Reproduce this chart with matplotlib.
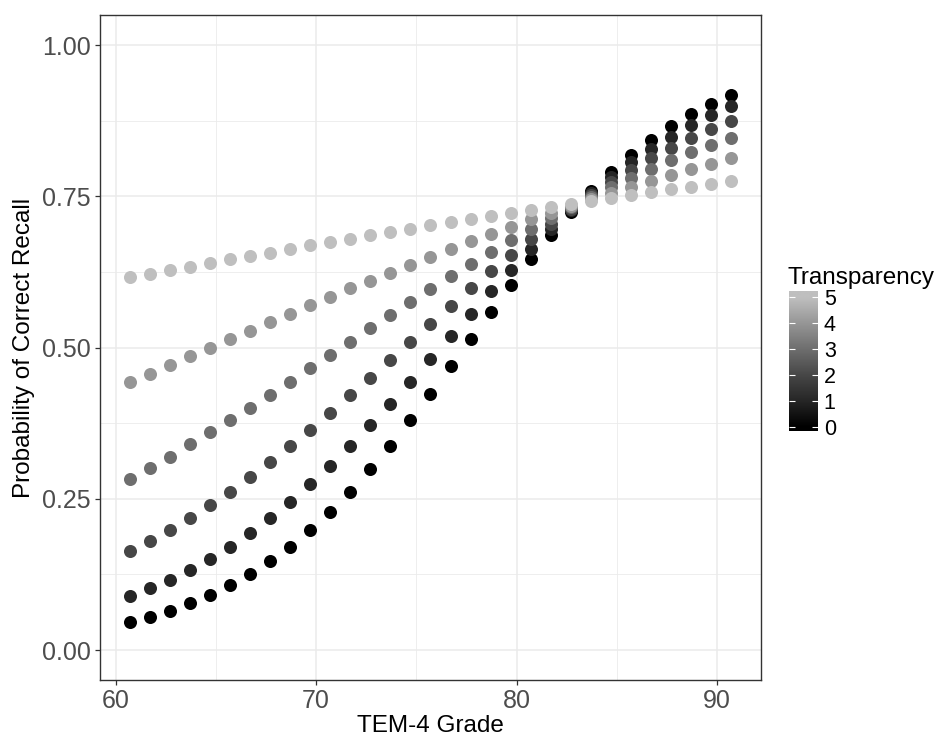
import numpy as np
import matplotlib
matplotlib.use("Agg")
import matplotlib.pyplot as plt
from matplotlib.colors import LinearSegmentedColormap, Normalize

plt.rcParams['font.family'] = ['Liberation Sans', 'DejaVu Sans']

# TEM-4 grade (x) shared by all series
grade = [60.7, 61.7, 62.7, 63.7, 64.7, 65.7, 66.7, 67.7, 68.7, 69.7,
         70.7, 71.7, 72.7, 73.7, 74.7, 75.7, 76.7, 77.7, 78.7, 79.7,
         80.7, 81.7, 82.7, 83.7, 84.7, 85.7, 86.7, 87.7, 88.7, 89.7, 90.7]

# probability of correct recall for each transparency level
transparency = [0, 1, 2, 3, 4, 5]
p_t0 = [0.046, 0.055, 0.065, 0.077, 0.091, 0.107, 0.125, 0.147, 0.171, 0.198,
        0.229, 0.262, 0.299, 0.338, 0.380, 0.424, 0.469, 0.514, 0.559, 0.603,
        0.646, 0.686, 0.724, 0.759, 0.790, 0.819, 0.844, 0.867, 0.886, 0.903, 0.918]
p_t1 = [0.089, 0.102, 0.116, 0.132, 0.151, 0.171, 0.193, 0.218, 0.245, 0.274,
        0.304, 0.337, 0.372, 0.407, 0.444, 0.481, 0.519, 0.556, 0.593, 0.629,
        0.663, 0.696, 0.727, 0.756, 0.782, 0.807, 0.829, 0.849, 0.868, 0.884, 0.899]
p_t2 = [0.164, 0.181, 0.199, 0.219, 0.240, 0.262, 0.286, 0.311, 0.337, 0.364,
        0.392, 0.421, 0.450, 0.480, 0.510, 0.539, 0.569, 0.598, 0.626, 0.654,
        0.680, 0.705, 0.730, 0.753, 0.774, 0.794, 0.813, 0.830, 0.847, 0.861, 0.875]
p_t3 = [0.283, 0.301, 0.320, 0.340, 0.360, 0.380, 0.401, 0.422, 0.444, 0.466,
        0.488, 0.510, 0.532, 0.554, 0.575, 0.597, 0.618, 0.638, 0.658, 0.678,
        0.697, 0.715, 0.732, 0.749, 0.766, 0.781, 0.796, 0.810, 0.823, 0.835, 0.847]
p_t4 = [0.443, 0.457, 0.471, 0.486, 0.500, 0.514, 0.528, 0.542, 0.556, 0.570,
        0.584, 0.598, 0.611, 0.624, 0.637, 0.650, 0.663, 0.676, 0.688, 0.700,
        0.712, 0.723, 0.734, 0.745, 0.756, 0.766, 0.776, 0.786, 0.795, 0.804, 0.813]
p_t5 = [0.616, 0.622, 0.628, 0.634, 0.640, 0.646, 0.652, 0.657, 0.663, 0.669,
        0.674, 0.680, 0.686, 0.691, 0.696, 0.702, 0.707, 0.712, 0.718, 0.723,
        0.728, 0.733, 0.738, 0.743, 0.747, 0.752, 0.757, 0.762, 0.766, 0.771, 0.775]
series = [p_t0, p_t1, p_t2, p_t3, p_t4, p_t5]

x_ticks = [60, 70, 80, 90]
y_ticks = [0.00, 0.25, 0.50, 0.75, 1.00]

# black -> grey75 gradient like ggplot's scale_colour_gradient
cmap = LinearSegmentedColormap.from_list(
    'greys', ['#000000', '#262626', '#474747', '#6E6E6E', '#969696', '#BFBFBF'])
norm = Normalize(0, 5)

fig = plt.figure(figsize=(9.42, 7.38), dpi=100)
ax = fig.add_axes([100 / 942, 1 - 680.3 / 738, 661.3 / 942, 665.3 / 738])

for t, p in zip(transparency, series):
    ax.scatter(grade, p, s=88, color=cmap(norm(t)), linewidths=0, zorder=3)

ax.set_xlim(59.22, 92.2)
ax.set_ylim(-0.05, 1.05)
ax.set_xticks(x_ticks)
ax.set_yticks(y_ticks)
ax.set_xticklabels([str(v) for v in x_ticks])
ax.set_yticklabels(['%.2f' % v for v in y_ticks])
ax.set_xticks([65, 75, 85], minor=True)
ax.set_yticks([0.125, 0.375, 0.625, 0.875], minor=True)
ax.tick_params(which='minor', length=0)
ax.grid(which='major', color='#EBEBEB', linewidth=1.1)
ax.grid(which='minor', color='#EBEBEB', linewidth=0.6)
ax.set_axisbelow(True)
for s in ax.spines.values():
    s.set_color('#333333')
    s.set_linewidth(1.0)
ax.tick_params(which='major', length=3.6, width=0.9, color='#333333',
               labelsize=18, labelcolor='#4D4D4D', pad=3)

ax.set_xlabel('TEM-4 Grade', fontsize=17.5, labelpad=1)
ax.set_ylabel('Probability of Correct Recall', fontsize=17.5, labelpad=5)

# colour bar legend
cax = fig.add_axes([789.3 / 942, 1 - 430.7 / 738, 29 / 942, 140 / 738])
lo, hi = -0.15, 5.23
grad = np.linspace(lo, hi, 300)[:, None]
cax.imshow(grad, aspect='auto', cmap=cmap, norm=norm, origin='lower',
           extent=[0, 1, lo, hi])
cax.set_ylim(lo, hi)
cax.set_xticks([])
cax.set_yticks(transparency)
cax.yaxis.set_ticks_position('both')
cax.tick_params(axis='y', direction='in', color='white', length=4.2, width=0.8,
                left=True, right=True, labelleft=False, labelright=True,
                labelsize=15.5, pad=4)
for s in cax.spines.values():
    s.set_visible(False)
fig.text(787 / 942, 1 - 284 / 738, 'Transparency', fontsize=17.5,
         ha='left', va='baseline')

fig.savefig('out.png', dpi=100)
